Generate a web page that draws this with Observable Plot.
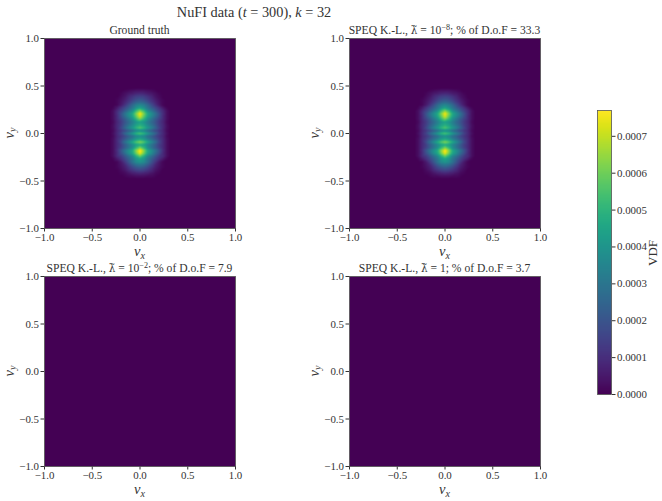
<!DOCTYPE html>
<html><head><meta charset="utf-8">
<script src="https://cdn.jsdelivr.net/npm/d3@7"></script>
<script src="https://cdn.jsdelivr.net/npm/@observablehq/plot@0.6"></script>
<style>
html,body{margin:0;padding:0;background:#fff}
#fig{position:relative;width:662px;height:501px;overflow:hidden;font-family:"Liberation Serif",serif;color:#333}
#fig svg{position:absolute;background:transparent;color:#333}
#fig svg, #fig svg text{font-family:"Liberation Serif",serif !important;font-size:10.9px !important}
.t{position:absolute;white-space:nowrap;transform:translateX(-50%);line-height:1}
.sub{font-size:11.6px}
.lab{font-size:14.5px}
.rot{transform:translate(-50%,-50%) rotate(-90deg)}
.lam{font-style:normal;font-family:"DejaVu Serif",serif;font-size:.9em}
sup{font-size:.7em;line-height:0;vertical-align:.5em}
sub{font-size:.7em;line-height:0;vertical-align:-.25em}
</style></head><body><div id="fig"></div>
<script>
// distribution, in units of 1e-5; |vx| columns, vy rows
const vxMagnitudes = [0, 0.04, 0.08, 0.12, 0.16, 0.20, 0.24, 0.28];
const vyRows = [0.45,0.42,0.39,0.36,0.33,0.30,0.27,0.24,0.21,0.18,0.15,0.12,0.09,0.06,0.03,0,-0.03,-0.06,-0.09,-0.12,-0.15,-0.18,-0.21,-0.24,-0.27,-0.30,-0.33,-0.36,-0.39,-0.42,-0.45];
const vdfRows = [
[4,4,3,2,1,0,0,0],
[9,8,6,5,3,1,0,0],
[15,14,11,8,4,2,0,0],
[20,18,14,10,6,3,1,0],
[26,24,19,13,8,4,1,0],
[36,33,26,18,11,5,1,0],
[44,39,30,23,17,11,5,1],
[62,52,38,30,22,15,9,3],
[76,62,46,38,29,19,10,3],
[72,58,44,36,27,18,9,3],
[60,50,38,30,22,15,9,3],
[44,40,33,26,20,13,8,2],
[48,44,36,29,22,14,9,3],
[56,50,41,34,25,16,9,3],
[38,35,28,23,17,12,8,2],
[55,50,41,33,25,15,9,3],
[38,35,28,23,17,12,8,2],
[46,42,34,28,21,14,9,3],
[62,56,46,37,28,17,9,3],
[48,44,36,29,22,14,9,3],
[62,51,38,30,22,15,9,3],
[78,64,47,39,30,20,10,3],
[74,60,45,37,27,18,9,3],
[58,48,35,28,20,13,9,3],
[44,40,30,23,16,10,5,1],
[40,37,29,20,12,5,1,0],
[30,28,22,15,8,4,1,0],
[22,20,16,11,6,3,1,0],
[15,14,11,8,4,2,0,0],
[8,7,6,4,2,1,0,0],
[3,3,2,2,1,0,0,0]];
const axisTicks = [-1,-0.5,0,0.5,1];
const colorTicks = [0,0.0001,0.0002,0.0003,0.0004,0.0005,0.0006,0.0007];
const colorMax = 0.00077;
const lambdaTilde = '<span class="lam">λ̃</span>';
const panelTitles = [
 'Ground truth',
 'SPEQ K.-L., ' + lambdaTilde + ' = 10<sup>−8</sup>; % of D.o.F = 33.3',
 'SPEQ K.-L., ' + lambdaTilde + ' = 10<sup>−2</sup>; % of D.o.F = 7.9',
 'SPEQ K.-L., ' + lambdaTilde + ' = 1; % of D.o.F = 3.7'];

const edge = [-1,-0.6,0.6,1];
const background = edge.flatMap(x => edge.map(y => ({x, y, v: 0})));
const ring = [-0.32,0.32].flatMap(x => vyRows.map(y => ({x, y, v: 0})))
  .concat([0.48,-0.48].flatMap(y => d3.range(-8,9).map(i => ({x: i*0.04, y, v: 0}))));
const blob = vyRows.flatMap((y,j) => vxMagnitudes.flatMap((m,i) => {
  const v = vdfRows[j][i]*1e-5;
  return m === 0 ? [{x:0,y,v}] : [{x:-m,y,v},{x:m,y,v}];
}));
const fields = [background.concat(ring, blob), background.concat(ring, blob), background, background];

const fig = document.getElementById('fig');
const P = {w:191, h:190, ml:44, mt:10, mr:14, mb:24};
function panel(field, x0, y0){
  const svg = Plot.plot({
    width:P.w+P.ml+P.mr, height:P.h+P.mt+P.mb,
    marginLeft:P.ml, marginTop:P.mt, marginRight:P.mr, marginBottom:P.mb,
    x:{domain:[-1,1],label:null,ticks:axisTicks,tickFormat:'.1f',tickSize:3.5,tickPadding:1},
    y:{domain:[-1,1],label:null,ticks:axisTicks,tickFormat:'.1f',tickSize:3.5,tickPadding:2},
    color:{type:'linear',scheme:'viridis',domain:[0,colorMax]},
    marks:[
      Plot.raster(field,{x:'x',y:'y',fill:'v',interpolate:'barycentric',pixelSize:0.5,x1:-1,x2:1,y1:-1,y2:1}),
      Plot.frame({stroke:'#555',strokeWidth:0.8})
    ]
  });
  svg.style.left=(x0-P.ml)+'px'; svg.style.top=(y0-P.mt)+'px';
  fig.appendChild(svg);
}
function text(html,cls,x,y){
  const d=document.createElement('div'); d.className='t '+cls; d.innerHTML=html;
  d.style.left=x+'px'; d.style.top=y+'px'; fig.appendChild(d);
}
const xs=[44,349], ys=[38,276];
fields.forEach((f,k)=>{
  const x0=xs[k%2], y0=ys[k>>1];
  panel(f,x0,y0);
  text(panelTitles[k],'sub',x0+95.5,y0-13);
  text('<i>v</i><sub><i>x</i></sub>','lab',x0+95.5,y0+206);
  text('<i>v</i><sub><i>y</i></sub>','lab rot',x0-35,y0+95);
});
text('NuFI data (<i>t</i> = 300), <i>k</i> = 32','',254,5);
fig.lastChild.style.fontSize='14.3px';

// colour bar
const bar=Plot.plot({
  width:14+10+50,height:284+10+10,marginLeft:10,marginRight:50,marginTop:10,marginBottom:10,
  x:{domain:[0,1],axis:null},
  y:{domain:[0,colorMax],axis:'right',label:null,ticks:colorTicks,tickFormat:'.4f',tickSize:3.5,tickPadding:2},
  color:{type:'linear',scheme:'viridis',domain:[0,colorMax]},
  marks:[
    Plot.raster({fill:(x,y)=>y,x1:0,x2:1,y1:0,y2:colorMax,pixelSize:1}),
    Plot.frame({stroke:'#555',strokeWidth:0.8})
  ]
});
bar.style.left='587px'; bar.style.top='100px';
fig.appendChild(bar);
text('VDF','lab rot',652,253);
fig.lastChild.style.fontSize='13px';
</script></body></html>
